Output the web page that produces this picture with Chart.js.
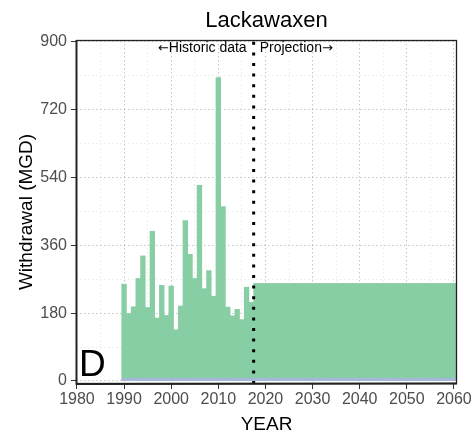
<!DOCTYPE html>
<html>
<head>
<meta charset="utf-8">
<script src="https://cdn.jsdelivr.net/npm/chart.js@4.4.0/dist/chart.umd.min.js"></script>
<style>
html,body{margin:0;padding:0;background:#ffffff;}
#wrap{width:475px;height:442px;}
</style>
</head>
<body>
<div id="wrap"><canvas id="c" width="475" height="442"></canvas></div>
<script>
// ---- data ----
const chartTitle = 'Lackawaxen';
const histYears = [1990,1991,1992,1993,1994,1995,1996,1997,1998,1999,2000,2001,2002,2003,2004,2005,2006,2007,2008,2009,2010,2011,2012,2013,2014,2015,2016,2017];
const histValues = [257,179,197,272,332,195,397,167,254,174,252,136,199,426,336,272,519,245,293,225,805,463,196,173,190,163,249,209];
const projYears = [2018,2019,2020,2021,2022,2023,2024,2025,2026,2027,2028,2029,2030,2031,2032,2033,2034,2035,2036,2037,2038,2039,2040,2041,2042,2043,2044,2045,2046,2047,2048,2049,2050,2051,2052,2053,2054,2055,2056,2057,2058,2059,2060];
const projValues = [259,259,259,259,259,259,259,259,259,259,259,259,259,259,259,259,259,259,259,259,259,259,259,259,259,259,259,259,259,259,259,259,259,259,259,259,259,259,259,259,259,259,259];
const consumptiveValues = [7,7,7,7,7,7,7,7,7,7,7,7,7,7,7,7,7,7,7,7,7,7,7,7,7,7,7,7,7,7,7,7,7,7,7,7,7,7,7,7,7,7,7,7,7,7,7,7,7,7,7,7,7,7,7,7,7,7,7,7,7,7,7,7,7,7,7,7,7,7,7];
const splitYear = [2017.5, 2017.5];
const splitRange = [-8, 905];
const xTickValues = [1980,1985,1990,1995,2000,2005,2010,2015,2020,2025,2030,2035,2040,2045,2050,2055,2060];
const yTickValues = [0,90,180,270,360,450,540,630,720,810,900];
const leftArrow = '\u2190';
const rightArrow = '\u2192';
const histLabel = 'Historic data';
const projLabel = 'Projection';
const panelLetter = 'D';

// ---- build library structures ----
const allYears = histYears.concat(projYears);
const greenData = histYears.map((y,i)=>({x:y,y:histValues[i]})).concat(projYears.map((y,i)=>({x:y,y:projValues[i]})));
const blueData = allYears.map((y,i)=>({x:y,y:consumptiveValues[i]}));
const lineData = splitYear.map((x,i)=>({x:x,y:splitRange[i]}));

const FONT = "'Liberation Sans', Arial, sans-serif";
const ARROWFONT = "'DejaVu Sans', sans-serif";
const GREEN = 'rgb(136,206,164)';
const BLUE = 'rgb(168,182,220)';

const decor = {
  id:'decor',
  afterDraw(chart){
    const {ctx, chartArea:a, scales} = chart;
    ctx.save();
    // panel border
    ctx.strokeStyle = '#222';
    ctx.lineWidth = 1.3;
    ctx.strokeRect(a.left+0.5, a.top+0.5, a.right-a.left-1, a.bottom-a.top-1);
    ctx.lineWidth = 1.8;
    ctx.beginPath();
    ctx.moveTo(a.left+0.5, a.top); ctx.lineTo(a.left+0.5, a.bottom);
    ctx.lineTo(a.right, a.bottom-0.5);
    ctx.stroke();
    // title
    ctx.fillStyle = '#000';
    ctx.font = '22px ' + FONT;
    ctx.textAlign = 'center';
    ctx.textBaseline = 'alphabetic';
    ctx.fillText(chartTitle, (a.left+a.right)/2, 27);
    // annotations
    const xs = scales.x.getPixelForValue(splitYear[0]);
    const by = 52;
    ctx.textAlign = 'left';
    ctx.font = '14px ' + FONT;
    const hw = ctx.measureText(histLabel).width;
    const hx = xs - 7 - hw;
    ctx.fillText(histLabel, hx, by);
    const px = xs + 6;
    ctx.fillText(projLabel, px, by);
    const pw = ctx.measureText(projLabel).width;
    ctx.font = '13px ' + ARROWFONT;
    const aw = ctx.measureText(leftArrow).width;
    ctx.fillText(leftArrow, hx - aw, by - 0.5);
    ctx.fillText(rightArrow, px + pw, by - 0.5);
    // panel letter
    ctx.font = '37px ' + FONT;
    ctx.textAlign = 'left';
    ctx.fillText(panelLetter, a.left+3, a.bottom-8);
    ctx.restore();
  }
};

new Chart(document.getElementById('c'), {
  type:'bar',
  data:{
    datasets:[
      {type:'line', data:lineData, borderColor:'#000', borderWidth:3, borderDash:[3,7.6], pointRadius:0, fill:false, order:-1},
      {data:blueData, backgroundColor:BLUE, borderWidth:0, barPercentage:1, categoryPercentage:1, grouped:false, order:0},
      {data:greenData, backgroundColor:GREEN, borderWidth:0, barPercentage:1, categoryPercentage:1, grouped:false, order:1}
    ]
  },
  options:{
    responsive:false,
    animation:false,
    layout:{padding:{top:40,right:18,left:0,bottom:0}},
    plugins:{legend:{display:false}, tooltip:{enabled:false}, title:{display:false}},
    scales:{
      x:{
        type:'linear', min:1979.8, max:2060.65, z:1, offset:false,
        afterBuildTicks(s){ s.ticks = xTickValues.map(v=>({value:v})); },
        afterFit(s){ s.height = 58; },
        grid:{
          offset:false,
          color:(c)=> (c.tick && c.tick.value % 10 === 0) ? 'rgba(0,0,0,0.22)' : 'rgba(0,0,0,0.08)',
          lineWidth:1, tickLength:5,
          tickColor:(c)=> (c.tick && c.tick.value % 10 === 0) ? '#333' : 'rgba(0,0,0,0)'
        },
        border:{display:false, dash:[1.5,2.5]},
        ticks:{
          autoSkip:false, maxRotation:0, padding:1, color:'#4d4d4d',
          font:{family:FONT, size:16},
          callback:(v)=> (v % 10 === 0) ? String(v) : ''
        },
        title:{display:true, text:'YEAR', color:'#000', font:{family:FONT, size:19}, padding:{top:0,bottom:5.6}}
      },
      y:{
        type:'linear', min:-8, max:905, z:1,
        afterBuildTicks(s){ s.ticks = yTickValues.map(v=>({value:v})); },
        afterFit(s){ s.width = 76; },
        grid:{
          color:(c)=> (c.tick && c.tick.value % 180 === 0) ? 'rgba(0,0,0,0.22)' : 'rgba(0,0,0,0.08)',
          lineWidth:1, tickLength:5,
          tickColor:(c)=> (c.tick && c.tick.value % 180 === 0) ? '#333' : 'rgba(0,0,0,0)'
        },
        border:{display:false, dash:[1.5,2.5]},
        ticks:{
          autoSkip:false, padding:4, color:'#4d4d4d',
          font:{family:FONT, size:16},
          callback:(v)=> (v % 180 === 0) ? String(v) : ''
        },
        title:{display:true, text:'Withdrawal (MGD)', color:'#000', font:{family:FONT, size:19}, padding:{top:15.6,bottom:0}}
      }
    }
  },
  plugins:[decor]
});
</script>
</body>
</html>
